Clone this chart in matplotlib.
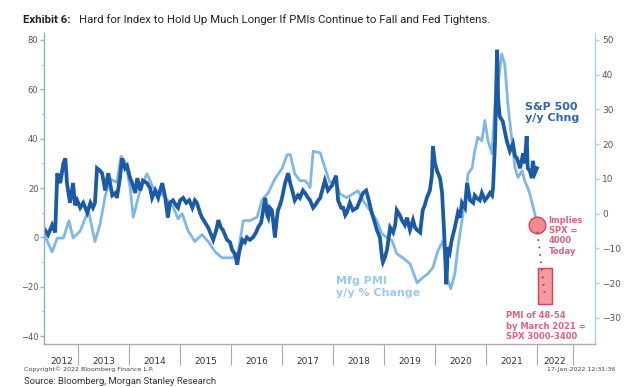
import matplotlib
matplotlib.use('Agg')
import matplotlib.pyplot as plt
from matplotlib.patches import Rectangle

# S&P 500 y/y % change (left axis), dates as decimal years
sp_dates = [2012.33, 2012.41, 2012.49, 2012.55, 2012.59, 2012.65, 2012.71, 2012.75, 2012.78, 2012.84,
            2012.90, 2012.94, 2012.98, 2013.04, 2013.10, 2013.18, 2013.24, 2013.29, 2013.33, 2013.37,
            2013.43, 2013.47, 2013.53, 2013.59, 2013.67, 2013.73, 2013.76, 2013.82, 2013.86, 2013.92,
            2013.96, 2014.02, 2014.06, 2014.12, 2014.16, 2014.22, 2014.27, 2014.35, 2014.41, 2014.45,
            2014.51, 2014.57, 2014.65, 2014.71, 2014.76, 2014.80, 2014.86, 2014.92, 2014.96, 2015.00,
            2015.06, 2015.12, 2015.18, 2015.24, 2015.29, 2015.33, 2015.39, 2015.43, 2015.49, 2015.55,
            2015.61, 2015.65, 2015.71, 2015.75, 2015.80, 2015.84, 2015.88, 2015.92, 2015.98, 2016.02,
            2016.08, 2016.12, 2016.16, 2016.22, 2016.27, 2016.31, 2016.37, 2016.43, 2016.49, 2016.53,
            2016.59, 2016.63, 2016.67, 2016.71, 2016.73, 2016.76, 2016.80, 2016.84, 2016.86, 2016.90,
            2016.92, 2016.96, 2017.00, 2017.06, 2017.12, 2017.16, 2017.20, 2017.25, 2017.31, 2017.35,
            2017.41, 2017.45, 2017.51, 2017.55, 2017.61, 2017.65, 2017.71, 2017.75, 2017.80, 2017.84,
            2017.90, 2017.98, 2018.06, 2018.10, 2018.16, 2018.20, 2018.24, 2018.27, 2018.33, 2018.39,
            2018.47, 2018.53, 2018.59, 2018.65, 2018.69, 2018.76, 2018.82, 2018.86, 2018.92, 2018.96,
            2018.98, 2019.02, 2019.06, 2019.12, 2019.18, 2019.22, 2019.25, 2019.31, 2019.35, 2019.41,
            2019.45, 2019.51, 2019.57, 2019.61, 2019.65, 2019.71, 2019.76, 2019.80, 2019.84, 2019.90,
            2019.94, 2019.96, 2020.00, 2020.04, 2020.10, 2020.14, 2020.16, 2020.18, 2020.20, 2020.22,
            2020.24, 2020.25, 2020.29, 2020.33, 2020.39, 2020.45, 2020.49, 2020.53, 2020.59, 2020.63,
            2020.69, 2020.75, 2020.78, 2020.82, 2020.88, 2020.92, 2020.98, 2021.02, 2021.08, 2021.12,
            2021.14, 2021.18, 2021.20, 2021.22, 2021.24, 2021.27, 2021.33, 2021.37, 2021.41, 2021.47,
            2021.53, 2021.57, 2021.61, 2021.67, 2021.73, 2021.76, 2021.80, 2021.82, 2021.86, 2021.90,
            2021.92, 2021.96, 2022.00]
sp_vals = [3.6, 1, 5, 2, 26, 22, 30, 32, 22, 14,
           22, 13, 15, 12, 14, 10, 14, 12, 14, 28,
           27, 26, 19, 26, 17, 18, 16, 24, 32, 28,
           29, 24, 22, 18, 24, 19, 23, 22, 20, 16,
           19, 16, 22, 16, 8, 14, 15, 13, 12, 15,
           16, 14, 15, 12, 15, 14, 10, 8, 6, 4,
           1, -1, 3, 7, 4, 3, 1, -1, -2, -5,
           -7, -11, -6, -1, -2, 0, -1, 0, 2, 4,
           6, 11, 16, 9, 8, 12, 11, 4, 0, 8,
           11, 13, 16, 22, 26, 22, 19, 15, 17, 16,
           19, 18, 16, 15, 12, 13, 15, 16, 20, 23,
           19, 21, 25, 15, 12, 12, 9, 10, 14, 11,
           12, 15, 18, 19, 16, 10, 6, 3, 0, -8,
           -10, -8, -5, 4, 2, 5, 11, 9, 7, 5,
           8, 3, 7, 4, 3, 2, 11, 13, 16, 19,
           25, 37, 30, 27, 24, 18, 10, 2, -7, -19,
           -12, -4, -6, -1, 4, 10, 8, 14, 12, 22,
           15, 14, 17, 16, 15, 18, 15, 16, 18, 17,
           20, 39, 60, 76, 56, 49, 47, 43, 39, 35,
           38, 33, 32, 28, 34, 30, 41, 28, 27, 24,
           31, 26, 28]

# ISM Mfg PMI y/y % change (right axis)
pmi_dates = [2012.31, 2012.39, 2012.49, 2012.59, 2012.71, 2012.82, 2012.90, 2013.04, 2013.20, 2013.33,
             2013.43, 2013.53, 2013.63, 2013.76, 2013.84, 2013.92, 2014.02, 2014.08, 2014.22, 2014.35,
             2014.47, 2014.61, 2014.75, 2014.86, 2014.96, 2015.04, 2015.16, 2015.29, 2015.43, 2015.55,
             2015.69, 2015.82, 2016.02, 2016.14, 2016.24, 2016.37, 2016.51, 2016.61, 2016.73, 2016.86,
             2017.00, 2017.10, 2017.16, 2017.25, 2017.35, 2017.45, 2017.51, 2017.55, 2017.61, 2017.75,
             2017.88, 2017.94, 2018.04, 2018.14, 2018.27, 2018.39, 2018.49, 2018.59, 2018.73, 2018.86,
             2018.96, 2019.06, 2019.16, 2019.25, 2019.37, 2019.51, 2019.65, 2019.76, 2019.86, 2019.96,
             2020.06, 2020.16, 2020.24, 2020.31, 2020.39, 2020.45, 2020.53, 2020.59, 2020.65, 2020.73,
             2020.78, 2020.84, 2020.92, 2020.98, 2021.04, 2021.12, 2021.18, 2021.24, 2021.31, 2021.37,
             2021.43, 2021.51, 2021.57, 2021.63, 2021.71, 2021.76, 2021.82, 2021.86, 2021.96, 2022.00]
pmi_vals = [-5, -7.8, -11, -7, -7, -2, -7, -5, 1, -8,
            -3, 5, 10, 9, 16.5, 15, 7.5, -1, 7, 11.5,
            7.5, 6, 4, 2, -1.5, 0, -5, -8, -6, -8,
            -11, -12.7, -12.7, -11, -2, -2, -1, 4, 6, 10,
            13, 17, 17, 11.5, 9.5, 9.5, 8.6, 7.5, 18, 17.5,
            11.5, 9, 9.5, 5.7, 4.6, 5.7, 6.6, 3.7, 0.9, -2,
            -5.8, -6.9, -7.8, -11.5, -12.7, -14.4, -19.9, -18.4, -17.3, -15.5,
            -10.6, -7.8, -18.4, -21.6, -17.3, -9.8, -2, 3.7, 11.5, 13.2,
            18, 22, 21, 26.8, 21, 17.3, 31.7, 38, 46, 43,
            31.7, 21, 13.2, 10.4, 12.4, 9.5, 7.5, 5.7, 0, -4]

# annotation values (right axis)
implied_date, implied_val = 2022.0, -3.2
range_dates = [2022.02, 2022.29]
range_vals = [-25.9, -15.5]

year_labels = ['2012', '2013', '2014', '2015', '2016', '2017', '2018', '2019', '2020', '2021', '2022']
year_centers = [2012.67, 2013.5, 2014.5, 2015.5, 2016.5, 2017.5, 2018.5, 2019.5, 2020.5, 2021.5, 2022.35]
year_bounds = [2013, 2014, 2015, 2016, 2017, 2018, 2019, 2020, 2021, 2022, 2022.71]

dark_blue = '#1b5aa5'
light_blue = '#80b7e5'
red_txt = '#e0607c'

fig = plt.figure(figsize=(6.24, 3.87), dpi=100)
ax = fig.add_axes([44/624, 43/387, 551/624, 311/387])
ax2 = ax.twinx()

ax.plot(sp_dates, sp_vals, color=dark_blue, lw=2.7, solid_joinstyle='miter')
ax2.plot(pmi_dates, pmi_vals, color=light_blue, lw=2.0)
ax.set_zorder(ax2.get_zorder() + 1)
ax.patch.set_visible(False)

ax.set_xlim(2012.33, 2023.14)
ax.set_ylim(-43.2, 82.8)
ax2.set_ylim(-37.5, 52.0)

# spines
ax.spines['top'].set_visible(False)
ax2.spines['top'].set_visible(False)
ax.spines['right'].set_visible(False)
ax2.spines['left'].set_visible(False)
ax2.spines['bottom'].set_visible(False)
ax.spines['left'].set_color('#8fb0cc')
ax2.spines['right'].set_color('#a9cdee')
ax.spines['bottom'].set_color('#aaaaaa')
for s in ['left', 'bottom']:
    ax.spines[s].set_linewidth(1.0)
ax2.spines['right'].set_linewidth(1.0)

# y ticks
ax.set_yticks(range(-40, 81, 20))
ax.set_yticks(range(-40, 81, 10), minor=True)
ax.tick_params(axis='y', which='major', direction='out', length=3, width=1, color='#8fb0cc',
               labelsize=6, labelcolor='#555555', pad=1)
ax.tick_params(axis='y', which='minor', direction='out', length=1.5, width=0.8, color='#8fb0cc')
ax2.set_yticks(range(-30, 51, 10))
ax2.tick_params(axis='y', direction='out', length=3, width=1, color='#a9cdee',
                labelsize=6.5, labelcolor='#555555', pad=2)

# x axis: year separators with labels in between
ax.set_xticks(year_bounds)
ax.set_xticklabels([''] * len(year_bounds))
ax.set_xticks(year_centers, minor=True)
ax.set_xticklabels(year_labels, minor=True)
ax.tick_params(axis='x', which='major', direction='out', length=15, width=0.8, color='#aaaaaa')
ax.tick_params(axis='x', which='minor', length=0, labelsize=6.5, labelcolor='#333333', pad=9)

# annotations
ax2.plot([implied_date], [implied_val], marker='o', markersize=12, markerfacecolor='#f28a8e',
         markeredgecolor='#e0405a', markeredgewidth=1.0, zorder=5)
ax2.add_patch(Rectangle((range_dates[0], range_vals[0]), range_dates[1] - range_dates[0],
                        range_vals[1] - range_vals[0], facecolor='#f59a9e', edgecolor='#d8404f',
                        lw=1.0, zorder=4))
ax2.plot([implied_date + 0.01, implied_date + 0.15], [implied_val - 2, range_vals[0] + 3],
         color='#555555', lw=1.2, linestyle=(0, (1, 3.5)), zorder=6)

ax.text(2021.76, 55, 'S&P 500\ny/y Chng', color='#2a68ad', fontsize=8, fontweight='bold',
        va='top', ha='left', linespacing=1.15)
ax.text(2018.06, -15.8, 'Mfg PMI\ny/y % Change', color='#9dc9ef', fontsize=8, fontweight='bold',
        va='top', ha='left', linespacing=1.15)
ax.text(2022.23, 8.5, 'Implies\nSPX =\n4000\nToday', color=red_txt, fontsize=6, fontweight='bold',
        va='top', ha='left', linespacing=1.15)
ax.text(2021.4, -30.0, 'PMI of 48-54\nby March 2021 =\nSPX 3000-3400', color=red_txt, fontsize=6,
        fontweight='bold', va='top', ha='left', linespacing=1.2)

# title and footers
fig.text(23/624, 1 - 23/387, 'Exhibit 6:', fontsize=8.2, fontweight='bold', family='Roboto',
         va='baseline', ha='left', color='#222222')
fig.text(79/624, 1 - 23/387, 'Hard for Index to Hold Up Much Longer If PMIs Continue to Fall and Fed Tightens.',
         fontsize=8.2, family='Roboto', va='baseline', ha='left', color='#222222')
fig.text(24/624, 1 - 369/387, 'Copyright\u00a9 2022 Bloomberg Finance L.P.', fontsize=4.5,
         color='#444444', va='center', ha='left')
fig.text(615/624, 1 - 370/387, '17-Jan-2022 12:31:36', fontsize=4.5, color='#444444',
         va='center', ha='right')
fig.text(24/624, 1 - 386/387, 'Source: Bloomberg, Morgan Stanley Research', fontsize=6.8,
         family='Roboto', color='#333333', va='bottom', ha='left')

fig.savefig('out.png', dpi=100)
